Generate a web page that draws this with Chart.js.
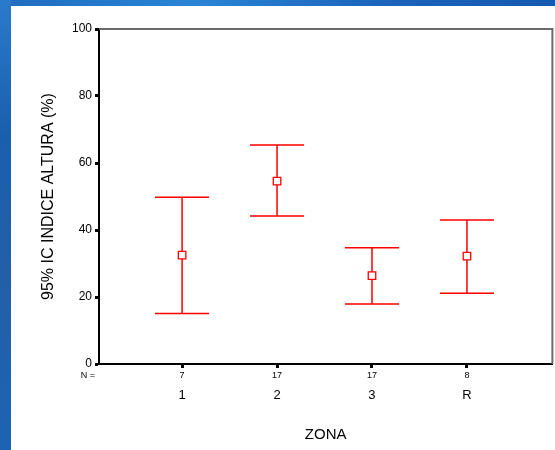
<!DOCTYPE html>
<html>
<head>
<meta charset="utf-8">
<script src="https://cdn.jsdelivr.net/npm/chart.js@4.4.1/dist/chart.umd.min.js"></script>
<style>
  html, body { margin: 0; padding: 0; }
  body {
    width: 555px; height: 450px; overflow: hidden; position: relative;
    background: linear-gradient(90deg, #1e6cbf 0%, #2a84d6 35%, #1b63bb 70%, #1559b0 100%);
  }
  #wrap {
    position: absolute; left: 11px; top: 6px; width: 544px; height: 444px;
    background: #ffffff; overflow: hidden;
  }
  #leftband {
    position: absolute; left: 0; top: 0; width: 11px; height: 450px;
    background: linear-gradient(180deg, #2a7acb 0%, #1a5fae 30%, #235fa8 60%, #1d63b3 100%);
  }
</style>
</head>
<body>
<div id="leftband"></div>
<div id="wrap"><canvas id="ciChart" width="548" height="444"></canvas></div>
<script>
// ========== DATA ==========
const zones = ['1', '2', '3', 'R'];
const counts = [7, 17, 17, 8];
const means = [32.5, 54.6, 26.4, 32.2];
const upper = [49.8, 65.4, 34.7, 43.0];
const lower = [15.1, 44.2, 17.9, 21.1];
const yTicks = [0, 20, 40, 60, 80, 100];

const RED = '#ff0000';
const CAP_HALF = 0.285;

// ========== ERROR BARS + FRAME ==========
const errorBars = {
  id: 'errorBars',
  beforeDatasetsDraw(chart) {
    const { ctx, chartArea, scales: { x, y } } = chart;
    // top and right frame
    ctx.save();
    ctx.strokeStyle = '#6a6a6a';
    ctx.lineWidth = 2;
    ctx.beginPath();
    ctx.moveTo(chartArea.left, chartArea.top);
    ctx.lineTo(chartArea.right, chartArea.top);
    ctx.lineTo(chartArea.right, chartArea.bottom);
    ctx.stroke();

    ctx.strokeStyle = RED;
    ctx.lineWidth = 1.5;
    zones.forEach((z, i) => {
      const xc = x.getPixelForValue(i + 1);
      const x0 = x.getPixelForValue(i + 1 - CAP_HALF);
      const x1 = x.getPixelForValue(i + 1 + CAP_HALF);
      const yt = y.getPixelForValue(upper[i]);
      const yb = y.getPixelForValue(lower[i]);
      ctx.beginPath();
      ctx.moveTo(xc, yt); ctx.lineTo(xc, yb);
      ctx.moveTo(x0, yt); ctx.lineTo(x1, yt);
      ctx.moveTo(x0, yb); ctx.lineTo(x1, yb);
      ctx.stroke();
    });
    ctx.restore();
  },
  afterDraw(chart) {
    const { ctx, chartArea, scales: { x } } = chart;
    ctx.save();
    ctx.fillStyle = '#000';
    ctx.font = '9px "Liberation Sans", Arial, sans-serif';
    ctx.textAlign = 'center';
    ctx.textBaseline = 'middle';
    const yN = chartArea.bottom + 12;
    ctx.fillText('N =', 77, yN);
    counts.forEach((n, i) => {
      ctx.fillText(String(n), x.getPixelForValue(i + 1), yN);
    });
    ctx.restore();
  }
};

// ========== CHART ==========
const ctx = document.getElementById('ciChart').getContext('2d');
new Chart(ctx, {
  type: 'scatter',
  data: {
    datasets: [{
      data: means.map((m, i) => ({ x: i + 1, y: m })),
      pointStyle: 'rect',
      pointRadius: 5.3,
      backgroundColor: '#ffffff',
      borderColor: RED,
      borderWidth: 1.3
    }]
  },
  options: {
    responsive: false,
    animation: false,
    layout: { padding: { top: 23, right: 3, left: 0, bottom: 0 } },
    plugins: { legend: { display: false }, tooltip: { enabled: false } },
    scales: {
      x: {
        type: 'linear',
        min: 0.125,
        max: 4.9,
        afterFit: (s) => { s.height = 86; },
        afterBuildTicks: (s) => { s.ticks = zones.map((z, i) => ({ value: i + 1 })); },
        grid: { drawOnChartArea: false, color: '#000', tickLength: 4, tickWidth: 3 },
        border: { color: '#000', width: 2 },
        ticks: {
          color: '#000',
          font: { size: 13, family: '"Liberation Sans", Arial, sans-serif' },
          padding: 20,
          callback: (v) => zones[v - 1]
        },
        title: {
          display: true,
          text: 'ZONA',
          color: '#000',
          font: { size: 15, family: '"Liberation Sans", Arial, sans-serif' },
          padding: { top: 0, bottom: 6 }
        }
      },
      y: {
        min: 0,
        max: 100,
        afterFit: (s) => { s.width = 88; },
        afterBuildTicks: (s) => { s.ticks = yTicks.map(v => ({ value: v })); },
        grid: { drawOnChartArea: false, color: '#000', tickLength: 4, tickWidth: 3 },
        border: { color: '#000', width: 2 },
        ticks: {
          color: '#000',
          font: { size: 12, family: '"Liberation Sans", Arial, sans-serif' },
          padding: 3
        },
        title: {
          display: true,
          text: '95% IC INDICE ALTURA (%)',
          color: '#000',
          font: { size: 16, family: '"Liberation Sans", Arial, sans-serif' },
          padding: { top: 28, bottom: 0 }
        }
      }
    }
  },
  plugins: [errorBars]
});
</script>
</body>
</html>
